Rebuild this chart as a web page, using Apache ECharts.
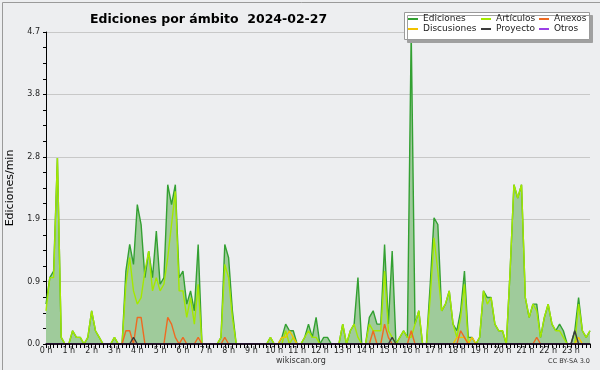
<!DOCTYPE html>
<html><head><meta charset="utf-8">
<script src="https://cdn.jsdelivr.net/npm/echarts@6/dist/echarts.min.js"></script>
<style>html,body{margin:0;padding:0;background:#edeef0}#c{width:600px;height:370px}</style>
</head><body><div id="c"></div>
<script>
// 10-minute bins (144 per day), values in edits per minute
const ediciones = [
  0.6,1.0,1.1,2.8,0.1,0,     // 0h
  0,0.2,0.1,0.1,0,0.1,       // 1h
  0.5,0.2,0.1,0,0,0,         // 2h
  0.1,0,0,1.1,1.5,1.2,       // 3h
  2.1,1.8,1.0,1.4,1.0,1.7,   // 4h
  0.9,1.0,2.4,2.1,2.4,1.0,   // 5h
  1.1,0.6,0.8,0.5,1.5,0,     // 6h
  0,0,0,0,0.1,1.5,           // 7h
  1.3,0.5,0,0,0,0,           // 8h
  0,0,0,0,0,0.1,             // 9h
  0,0,0.1,0.3,0.2,0.2,       // 10h
  0,0,0.1,0.3,0.1,0.4,       // 11h
  0,0.1,0.1,0,0,0,           // 12h
  0.3,0,0.2,0.3,1.0,0,       // 13h
  0,0.4,0.5,0.3,0.3,1.5,     // 14h
  0.3,1.4,0,0.1,0.2,0.1,     // 15h
  4.7,0.3,0.5,0,0,0.9,       // 16h
  1.9,1.8,0.5,0.6,0.8,0.3,   // 17h
  0.2,0.5,1.1,0.1,0.1,0,     // 18h
  0.1,0.8,0.7,0.7,0.3,0.2,   // 19h
  0.2,0,1.1,2.4,2.2,2.4,     // 20h
  0.7,0.4,0.6,0.6,0.1,0.4,   // 21h
  0.6,0.3,0.2,0.3,0.2,0,     // 22h
  0,0.2,0.7,0.2,0.1,0.2      // 23h
];
const articulos = [
  0.5,1.0,1.0,2.8,0.1,0,
  0,0.2,0.1,0.1,0,0.1,
  0.5,0.2,0.1,0,0,0,
  0.1,0,0,0.9,1.3,0.8,
  0.6,0.7,1.1,1.4,0.8,1.0,
  0.8,0.9,1.3,1.8,2.3,0.8,
  0.8,0.4,0.7,0.3,0.9,0,
  0,0,0,0,0.1,1.2,
  1.0,0.4,0,0,0,0,
  0,0,0,0,0,0.1,
  0,0,0,0.2,0,0.1,
  0,0,0.1,0.2,0.1,0.1,
  0,0,0,0,0,0,
  0.3,0,0.2,0.3,0.1,0,
  0,0.3,0.2,0.2,0.2,1.1,
  0.2,0.1,0,0.1,0.2,0.1,
  0.1,0.3,0.5,0,0,0.7,
  1.6,1.1,0.5,0.6,0.8,0.3,
  0.1,0.4,0.9,0,0,0,
  0.1,0.8,0.6,0.7,0.3,0.2,
  0.2,0,1.1,2.4,2.2,2.4,
  0.7,0.4,0.6,0.5,0.1,0.4,
  0.6,0.3,0.2,0.2,0.1,0,
  0,0,0.6,0.2,0.1,0.2
];
const anexos = [
  0,0,0,0,0,0,
  0,0,0,0,0,0,
  0,0,0,0,0,0,
  0,0,0,0.2,0.2,0,
  0.4,0.4,0,0,0,0,
  0,0,0.4,0.3,0.1,0,
  0.1,0,0,0,0.1,0,
  0,0,0,0,0,0.1,
  0,0,0,0,0,0,
  0,0,0,0,0,0,
  0,0,0,0,0,0,
  0,0,0,0,0,0,
  0,0,0,0,0,0,
  0,0,0,0,0,0,
  0,0,0.2,0,0,0.3,
  0.1,0,0,0,0,0,
  0.2,0,0,0,0,0,
  0,0,0,0,0,0,
  0,0.2,0.1,0,0,0,
  0,0,0,0,0,0,
  0,0,0,0,0,0,
  0,0,0,0.1,0,0,
  0,0,0,0,0,0,
  0,0,0,0,0,0
];
const discusiones = [
  0,0,0,0,0,0,
  0,0,0,0,0,0,
  0,0,0,0,0,0,
  0,0,0,0,0,0,
  0,0,0,0,0,0,
  0,0,0,0,0,0,
  0,0,0,0,0,0,
  0,0,0,0,0,0,
  0,0,0,0,0,0,
  0,0,0,0,0,0,
  0,0,0.1,0.1,0.2,0.1,
  0,0,0,0,0,0,
  0,0,0,0,0,0,
  0,0,0,0,0,0,
  0,0,0,0,0,0,
  0,0,0,0,0,0,
  0,0,0,0,0,0,
  0,0,0,0,0,0,
  0.1,0.1,0.1,0,0.1,0,
  0,0,0,0,0,0,
  0,0,0,0,0,0,
  0,0,0,0,0,0,
  0,0,0,0,0,0,
  0,0,0.1,0,0,0
];
const proyecto = [
  0,0,0,0,0,0,
  0,0,0,0,0,0,
  0,0,0,0,0,0,
  0,0,0,0,0,0.1,
  0,0,0,0,0,0,
  0,0,0,0,0,0,
  0,0,0,0,0,0,
  0,0,0,0,0,0,
  0,0,0,0,0,0,
  0,0,0,0,0,0,
  0,0,0,0,0,0,
  0,0,0,0,0,0,
  0,0,0,0,0,0,
  0,0,0,0,0,0,
  0,0,0,0,0,0,
  0,0.1,0,0,0,0,
  0,0,0,0,0,0,
  0,0,0,0,0,0,
  0,0,0,0,0,0,
  0,0,0,0,0,0,
  0,0,0,0,0,0,
  0,0,0,0,0,0,
  0,0,0,0,0,0,
  0,0.2,0,0,0,0
];
const otros = new Array(144).fill(0); // no "Otros" edits visible in the picture
const titleText = 'Ediciones por ámbito  2024-02-27';
const yTitle = 'Ediciones/min';
// category labels: one per 10-minute bin, "H:MM"
const times = [];
for (let h = 0; h < 24; h++) for (let m = 0; m < 60; m += 10) times.push(h + ':' + (m < 10 ? '0' : '') + m);

const FONT = 'DejaVu Sans';
const chart = echarts.init(document.getElementById('c'), null, {renderer:'canvas'});
const lineSeries = (name, arr, color, z) => ({
  name, type:'line', data: arr, showSymbol:false, symbol:'none',
  lineStyle:{color, width:1.4}, itemStyle:{color}, z, animation:false
});
const legendBase = {orient:'vertical', itemWidth:10, itemHeight:2, icon:'rect', itemGap:0,
  textStyle:{fontFamily:FONT, fontSize:9, color:'#222', lineHeight:10}, padding:0, z:10, selectedMode:false};

chart.setOption({
  animation:false,
  backgroundColor:'#edeef0',
  title:{text:titleText, left:85, top:8, textStyle:{fontFamily:FONT, fontWeight:'bold', fontSize:12.5, color:'#000'}},
  grid:{left:46, right:10, top:32, bottom:26, containLabel:false, outerBoundsMode:'none'},
  legend:[
    Object.assign({}, legendBase, {left:408, top:14, data:['Ediciones','Discusiones']}),
    Object.assign({}, legendBase, {left:481, top:14, data:['Artículos','Proyecto']}),
    Object.assign({}, legendBase, {left:539, top:14, data:['Anexos','Otros']})
  ],
  graphic:[
    {type:'rect', left:0, top:0, shape:{x:0.5, y:0.5, width:599, height:369}, style:{fill:'none', stroke:'#9a9a9a', lineWidth:1}, z:1, silent:true},
    {type:'rect', shape:{x:404.5, y:12.5, width:185, height:27}, style:{fill:'#fff', stroke:'#9a9a9a', lineWidth:1, shadowColor:'#a0a0a0', shadowOffsetX:3, shadowOffsetY:3, shadowBlur:0}, z:5, silent:true},
    {type:'text', left:276, top:357, style:{text:'wikiscan.org', fontFamily:FONT, fontSize:8, fill:'#333'}, z:5},
    {type:'text', right:10, top:358, style:{text:'CC BY-SA 3.0', fontFamily:FONT, fontSize:6.5, fill:'#333'}, z:5}
  ],
  xAxis:{type:'category', data:times, boundaryGap:false, z:6,
    axisLine:{lineStyle:{color:'#000', width:1.5}},
    axisTick:{interval:0, length:4, lineStyle:{color:'#000'}},
    splitLine:{show:false},
    axisLabel:{fontFamily:FONT, fontSize:8, color:'#222', margin:3, interval:5,
      formatter:v=> v.split(':')[0] + ' h'}
  },
  yAxis:{type:'value', min:0, max:4.7, interval:0.94,
    name:yTitle, nameLocation:'middle', nameGap:30, nameRotate:90,
    nameTextStyle:{fontFamily:FONT, fontSize:11, color:'#000'},
    axisLine:{show:true, lineStyle:{color:'#000', width:1}},
    axisTick:{show:true, length:3, lineStyle:{color:'#000'}},
    minorTick:{show:true, splitNumber:4, length:3, lineStyle:{color:'#000'}},
    splitLine:{show:true, lineStyle:{color:'#c8c8c8', width:1}},
    axisLabel:{fontFamily:FONT, fontSize:8, color:'#222', margin:6, formatter:v=>v.toFixed(1)}
  },
  series:[
    Object.assign(lineSeries('Ediciones', ediciones, '#33a032', 2), {areaStyle:{color:'#9fcb9b', opacity:1}}),
    lineSeries('Artículos', articulos, '#a4e800', 3),
    lineSeries('Discusiones', discusiones, '#f2c200', 3),
    lineSeries('Anexos', anexos, '#ee6a22', 3),
    lineSeries('Proyecto', proyecto, '#3c3c3c', 3),
    lineSeries('Otros', otros, '#9b3fe6', 3)
  ]
});
</script></body></html>
